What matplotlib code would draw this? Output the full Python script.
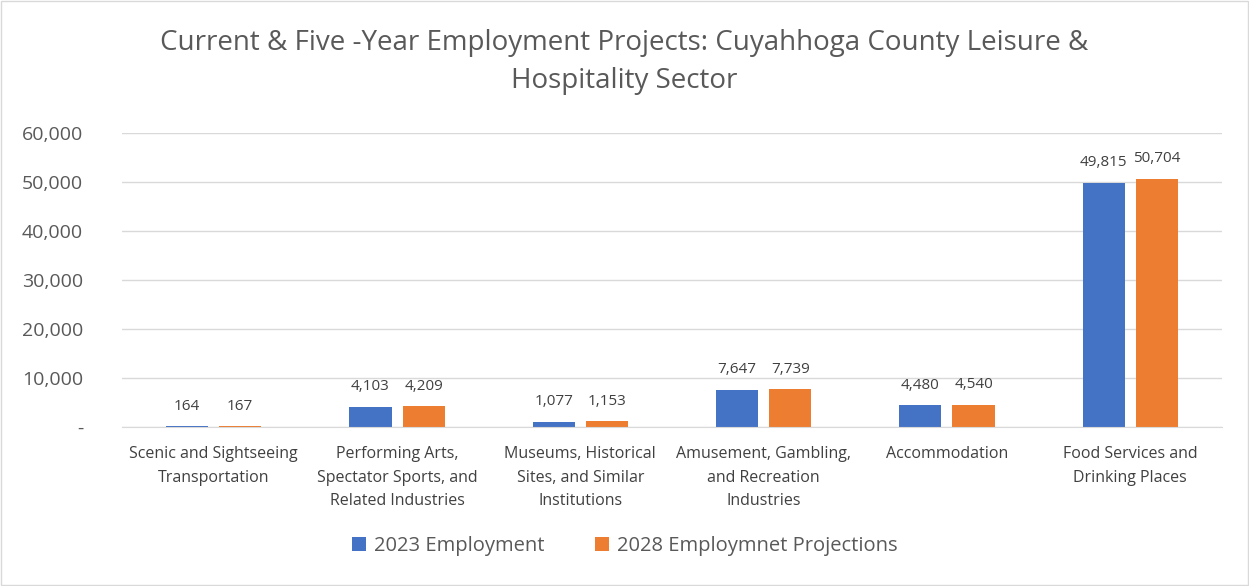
import matplotlib.pyplot as plt
import numpy as np

categories = ['Scenic and Sightseeing\nTransportation',
              'Performing Arts,\nSpectator Sports, and\nRelated Industries',
              'Museums, Historical\nSites, and Similar\nInstitutions',
              'Amusement, Gambling,\nand Recreation\nIndustries',
              'Accommodation',
              'Food Services and\nDrinking Places']
emp_2023 = [164, 4103, 1077, 7647, 4480, 49815]
proj_2028 = [167, 4209, 1153, 7739, 4540, 50704]
series_names = ['2023 Employment', '2028 Employmnet Projections']

plt.rcParams['font.family'] = ['Open Sans', 'DejaVu Sans']

fig = plt.figure(figsize=(12.49, 5.86), dpi=100)
ax = fig.add_axes([122 / 1249, 1 - 427 / 586, 1100 / 1249, 294 / 586])

x = np.arange(len(categories))
w = 0.23
b1 = ax.bar(x - 0.145, emp_2023, w, color='#4472c4', label=series_names[0])
b2 = ax.bar(x + 0.145, proj_2028, w, color='#ed7d31', label=series_names[1])

for bars in (b1, b2):
    ax.bar_label(bars, labels=[f'{v:,}' for v in bars.datavalues], padding=9,
                 fontsize=11, color='#404040')

ax.set_xlim(-0.5, len(categories) - 0.5)
ax.set_ylim(0, 60000)
ax.set_yticks(range(0, 60001, 10000))
ax.set_yticklabels(['-'] + [f'{v:,}' for v in range(10000, 60001, 10000)])
ax.set_xticks(x)
ax.set_xticklabels(categories, fontsize=11.5, color='#404040', linespacing=1.6)
ax.tick_params(axis='y', labelsize=14, labelcolor='#595959', length=0, pad=28)
ax.tick_params(axis='x', length=0, pad=14)
ax.grid(axis='y', color='#d9d9d9', linewidth=1)
ax.set_axisbelow(True)
for s in ['top', 'right', 'left']:
    ax.spines[s].set_visible(False)
ax.spines['bottom'].set_color('#d9d9d9')

fig.suptitle('Current & Five -Year Employment Projects: Cuyahhoga County Leisure &\nHospitality Sector',
             y=0.95, fontsize=20, color='#595959', linespacing=1.45)

fig.legend(loc='lower center', bbox_to_anchor=(0.5, 0.02), ncol=2, frameon=False,
           fontsize=14.5, labelcolor='#595959', handlelength=0.7, handleheight=0.7,
           columnspacing=2.5, handletextpad=0.4)

fig.add_artist(plt.Rectangle((0.001, 0.001), 0.998, 0.997, transform=fig.transFigure,
                             fill=False, edgecolor='#d9d9d9', linewidth=1))

fig.savefig('out.png', dpi=100)
